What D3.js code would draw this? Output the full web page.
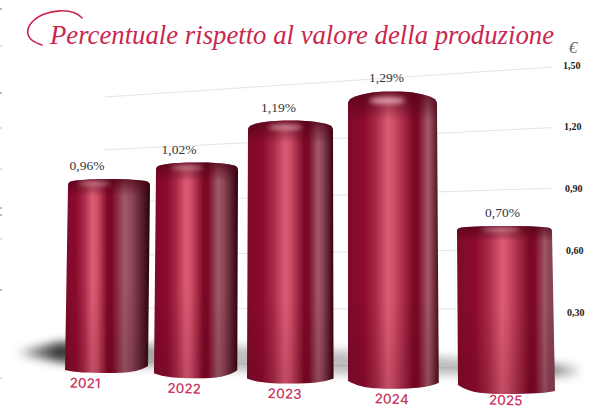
<!DOCTYPE html>
<html>
<head>
<meta charset="utf-8">
<script src="https://cdn.jsdelivr.net/npm/d3@7"></script>
<style>
  html, body { margin: 0; padding: 0; background: #fff; }
  svg { display: block; }
</style>
</head>
<body>
<div id="chart"></div>
<script>
// Production share per year, with its value label
const years = ["2021", "2022", "2023", "2024", "2025"];
const shares = [0.96, 1.02, 1.19, 1.29, 0.70];
const axisValues = [0, 0.30, 0.60, 0.90, 1.20, 1.50];
const axisLabels = ["", "0,30", "0,60", "0,90", "1,20", "1,50"];
const titleText = "Percentuale rispetto al valore della produzione";
const unitText = "€";

const W = 595, H = 409;
const fmtPct = d3.format(".2f");
const pctLabel = v => fmtPct(v).replace(".", ",") + "%";

// Bars sit on a receding floor: slots, baselines and value scale all grow with the slot index
const slots = d3.range(years.length);
const centerX = d3.scaleLinear().domain(slots).range([109, 197, 290.5, 392.5, 504.5]);
const barW = d3.scaleLinear().domain(slots).range([82, 82, 85, 89, 95]);
const floorY = d3.scaleLinear().domain([0, 4]).range([373, 394]);
const unitPx = d3.scaleLinear().domain([0, 4]).range([202, 240]);
const valueY = i => d3.scaleLinear().domain([0, 1]).range([floorY(i), floorY(i) - unitPx(i)]);
// Ellipse height of the cap follows the bar's value
const capRy = d3.scaleLinear().domain([0.70, 0.96, 1.02, 1.19, 1.29]).range([2, 3, 4, 6, 9]);
// Lean of each cylinder between top and bottom edge
const leanL = d3.scaleLinear().domain([0, 4]).range([-3, 1]);
const leanR = d3.scaleLinear().domain([0, 4]).range([-2, 3]);
const cornerL = d3.scaleLinear().domain(slots).range([3, 5, 5, 8, 9]);
const cornerR = d3.scaleLinear().domain(slots).range([7, 8, 5, 6, 3]);
// Reflection bands drift across the cylinder from left to right
const hiStop = d3.scaleLinear().domain(slots).range([0.32, 0.38, 0.44, 0.44, 0.46]);
const darkStop = d3.scaleLinear().domain(slots).range([0.50, 0.59, 0.66, 0.72, 0.74]);
const lightStop = d3.scaleLinear().domain(slots).range([0.70, 0.76, 0.82, 0.88, 0.90]);
const endColor = d3.scaleLinear().domain(slots).range(["#2a000e", "#2f0010", "#36000f", "#4a0a1c", "#84404f"]);
const labelDx = d3.scaleLinear().domain(slots).range([-22, -18, -12, -6, -2]);
const yearDx = d3.scaleLinear().domain(slots).range([-24, -13, -6, -1, 1]);

// Gridlines converge toward the left, so each end has its own scale
const gridRight = d3.scaleLinear().domain([0, 1.5]).range([370, 67]);
const gridLeft = d3.scaleLinear().domain([0, 1.5]).range([361, 97]);
const gridX = d3.scaleLinear().domain([0, 1]).range([105, 553]);
const tickY = d3.scaleLinear().domain([0.3, 1.5]).range([312, 65]);
const tickX = d3.scaleLinear().domain([0.3, 1.5]).range([567, 563]);

const svg = d3.select("#chart").append("svg").attr("width", W).attr("height", H);
const defs = svg.append("defs");

defs.append("filter").attr("id", "soft").attr("x", "-30%").attr("y", "-150%").attr("width", "160%").attr("height", "400%")
  .append("feGaussianBlur").attr("stdDeviation", 5);
defs.append("filter").attr("id", "glow").attr("x", "-60%").attr("y", "-200%").attr("width", "220%").attr("height", "500%")
  .append("feGaussianBlur").attr("stdDeviation", 2.4);

const shadowGrad = defs.append("linearGradient").attr("id", "floorShade");
[[0, "#000", 0.0], [0.035, "#000", 0.45], [0.08, "#000", 0.8], [0.16, "#000", 0.5], [0.3, "#000", 0.26], [0.8, "#000", 0.26], [0.95, "#000", 0.55], [1, "#000", 0.1]]
  .forEach(([o, c, a]) => shadowGrad.append("stop").attr("offset", o).attr("stop-color", c).attr("stop-opacity", a));

const capShade = defs.append("linearGradient").attr("id", "capShade").attr("x1", 0).attr("x2", 0).attr("y1", 0).attr("y2", 1);
capShade.append("stop").attr("offset", 0).attr("stop-color", "#4f0316").attr("stop-opacity", 0.8);
capShade.append("stop").attr("offset", 1).attr("stop-color", "#4f0316").attr("stop-opacity", 0);

const footShade = defs.append("linearGradient").attr("id", "footShade").attr("x1", 0).attr("x2", 0).attr("y1", 0).attr("y2", 1);
footShade.append("stop").attr("offset", 0).attr("stop-color", "#3a0010").attr("stop-opacity", 0);
footShade.append("stop").attr("offset", 1).attr("stop-color", "#3a0010").attr("stop-opacity", 0.16);

slots.forEach(i => {
  const g = defs.append("linearGradient").attr("id", "metal" + i);
  const hi = hiStop(i), dk = darkStop(i), lt = lightStop(i);
  [[0, "#7e0a2a"], [hi * 0.4, "#8b0a2d"], [hi * 0.7, "#a92a48"], [hi, "#dc5b74"], [hi + 0.06, "#cf4f69"],
   [dk, "#7c0826"], [dk + 0.05, "#7c0826"], [lt, "#a0596a"], [lt + (1 - lt) * 0.3, "#8c4656"], [1, endColor(i)]]
    .forEach(([o, c]) => g.append("stop").attr("offset", o).attr("stop-color", c));
});

// Stray crop marks along the left border
const edgeRows = [9, 46, 93, 128, 169, 208, 215, 239, 290, 378];
svg.append("g").selectAll("line").data(edgeRows).join("line")
  .attr("x1", 0).attr("x2", 2).attr("y1", d => d).attr("y2", d => d)
  .attr("stroke", d => [46, 128, 169, 239, 378].includes(d) ? "#c4c4c4" : "#777").attr("stroke-width", 1);

// Title, with the long flourish of the initial
const title = svg.append("g").attr("fill", "none").attr("stroke", "#c9274f").attr("stroke-linecap", "round");
title.append("path").attr("stroke-width", 1.6)
  .attr("d", d3.line().curve(d3.curveBasis)([[42, 45], [33, 42], [26, 34], [30, 22], [44, 13], [60, 10], [76, 12], [82, 18]]));
svg.append("text").attr("x", 50).attr("y", 44)
  .attr("font-family", "'Liberation Serif', serif").attr("font-style", "italic").attr("font-size", 27)
  .attr("fill", "#c9274f").attr("textLength", 504).attr("lengthAdjust", "spacingAndGlyphs")
  .text(titleText);
svg.append("text").attr("x", 573).attr("y", 53).attr("text-anchor", "middle")
  .attr("font-family", "'Liberation Serif', serif").attr("font-style", "italic").attr("font-size", 17)
  .attr("fill", "#6b6b6b").text(unitText);

// Gridlines
svg.append("g").selectAll("line").data(axisValues).join("line")
  .attr("x1", gridX(0)).attr("x2", gridX(1))
  .attr("y1", d => gridLeft(d)).attr("y2", d => gridRight(d))
  .attr("stroke", "#e4e4e4").attr("stroke-width", 1);

// Floor shadow running behind the row of cylinders
const shadowBand = [[14, 352], [60, 342], [300, 348], [578, 366], [578, 376], [300, 374], [60, 362], [14, 354]];
svg.append("path").attr("d", d3.line()(shadowBand) + "Z")
  .attr("fill", "url(#floorShade)").attr("filter", "url(#soft)");

// Axis labels
svg.append("g").selectAll("text").data(axisValues.slice(1)).join("text")
  .attr("x", d => tickX(d)).attr("y", d => tickY(d)).attr("dy", "0.35em")
  .attr("font-family", "'Liberation Serif', serif").attr("font-weight", "bold").attr("font-size", 10)
  .attr("fill", "#222").text((d, i) => axisLabels[i + 1]);

function bodyPath(i) {
  const v = shares[i], cx = centerX(i), w = barW(i), ry = capRy(v);
  const top = valueY(i)(v), low = floorY(i);
  const xl = cx - w / 2, xr = cx + w / 2;
  const bl = xl + leanL(i), br = xr + leanR(i);
  const by1 = low - cornerL(i), by2 = low - cornerR(i);
  const p = d3.path();
  p.moveTo(xl, top + ry + 4);
  p.bezierCurveTo(xl, top + ry, xl + 2, top + ry * 0.75, xl + w * 0.1, top + ry * 0.5);
  p.bezierCurveTo(xl + w * 0.26, top, cx - w * 0.1, top, cx, top);
  p.bezierCurveTo(cx + w * 0.1, top, xr - w * 0.26, top, xr - w * 0.1, top + ry * 0.5);
  p.bezierCurveTo(xr - 2, top + ry * 0.75, xr, top + ry, xr, top + ry + 4);
  p.lineTo(br, by2);
  p.bezierCurveTo(br - w * 0.12, by2 + (low - by2) * 0.8, cx + w * 0.25, low, cx, low);
  p.bezierCurveTo(cx - w * 0.25, low, bl + w * 0.12, by1 + (low - by1) * 0.8, bl, by1);
  p.closePath();
  return p.toString();
}

// Cylinders
const bars = svg.append("g").selectAll("g").data(slots).join("g");
slots.forEach(i => {
  defs.append("clipPath").attr("id", "bodyClip" + i).append("path").attr("d", bodyPath(i));
});
bars.append("path").attr("d", bodyPath).attr("fill", i => `url(#metal${i})`);

const sheen = bars.append("g").attr("clip-path", i => `url(#bodyClip${i})`);
sheen.append("rect")
  .attr("x", i => centerX(i) - barW(i) / 2 - 4).attr("width", i => barW(i) + 12)
  .attr("y", i => valueY(i)(shares[i]) - 1)
  .attr("height", i => capRy(shares[i]) * 2 + 12)
  .attr("fill", "url(#capShade)");
sheen.append("rect")
  .attr("x", i => centerX(i) - barW(i) / 2 - 4).attr("width", i => barW(i) + 12)
  .attr("y", i => floorY(i) - 90).attr("height", 92)
  .attr("fill", "url(#footShade)");
sheen.append("ellipse")
  .attr("cx", i => centerX(i) - barW(i) / 2 + barW(i) * hiStop(i))
  .attr("cy", i => valueY(i)(shares[i]) + capRy(shares[i]) * 0.8 + 2)
  .attr("rx", i => barW(i) * 0.2)
  .attr("ry", i => Math.max(1.8, capRy(shares[i]) * 0.4))
  .attr("fill", "#ffc9d2").attr("opacity", 0.7).attr("filter", "url(#glow)");

// Value labels
svg.append("g").selectAll("text").data(slots).join("text")
  .attr("x", i => centerX(i) + labelDx(i))
  .attr("y", i => valueY(i)(shares[i]) - 9)
  .attr("text-anchor", "middle")
  .attr("font-family", "'Liberation Serif', serif").attr("font-size", 13.5)
  .attr("fill", "#333").text(i => pctLabel(shares[i]));

// Year labels, tilted with the floor
svg.append("g").selectAll("text").data(slots).join("text")
  .attr("transform", i => `translate(${centerX(i) + yearDx(i)},${Math.min(floorY(i) + 15, 405)}) rotate(1.5)`)
  .attr("text-anchor", "middle")
  .attr("font-family", "Inter, 'Open Sans', sans-serif").attr("font-weight", 500).attr("font-size", 13.5)
  .attr("fill", "#c9335c").text(i => years[i]);
</script>
</body>
</html>
